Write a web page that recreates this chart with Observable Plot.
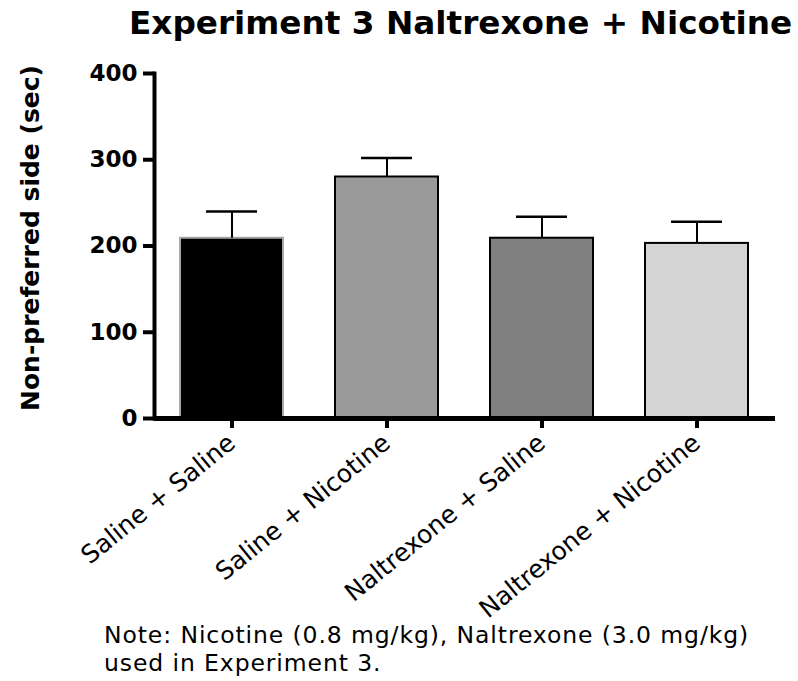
<!DOCTYPE html>
<html><head><meta charset="utf-8">
<script src="https://cdn.jsdelivr.net/npm/d3@7"></script>
<script src="https://cdn.jsdelivr.net/npm/@observablehq/plot@0.6"></script>
<style>
body{margin:0;background:#fff;width:798px;height:681px;overflow:hidden;font-family:"DejaVu Sans",sans-serif;color:#000}
#title{height:50px;box-sizing:border-box;padding:3px 0 0 129px;font-weight:bold;font-size:32.7px;font-family:"DejaVu Sans";line-height:40px;white-space:nowrap}
#note{position:relative;margin-top:-13px;padding-left:104px;font-size:23.5px;letter-spacing:0.9px;font-family:"DejaVu Sans";line-height:27.5px;white-space:nowrap}
svg{display:block}
</style></head><body>
<div id="title">Experiment 3 Naltrexone + Nicotine</div>
<div id="chart"></div>
<div id="note">Note: Nicotine (0.8 mg/kg), Naltrexone (3.0 mg/kg)<br>used in Experiment 3.</div>
<script>
const categories = ["Saline + Saline", "Saline + Nicotine", "Naltrexone + Saline", "Naltrexone + Nicotine"];
const means = [209, 280, 209, 203];
const sems = [31, 22, 25, 25];
const yTicks = [0, 100, 200, 300, 400];
const yLabel = "Non-preferred side (sec)";

const data = categories.map((c, i) => ({group: c, mean: means[i], upper: means[i] + sems[i]}));

const plot = Plot.plot({
  width: 798, height: 585,
  marginLeft: 154, marginRight: 23, marginTop: 23, marginBottom: 217,
  style: {fontFamily: "DejaVu Sans", fontSize: "21px", color: "#000", background: "transparent"},
  x: {domain: categories, paddingInner: 0.334, paddingOuter: 0.17, label: null},
  y: {domain: [0, 400], label: null},
  color: {domain: categories, range: ["#000000", "#9a9a9a", "#808080", "#d4d4d4"]},
  marks: [
    Plot.barY(data, {x: "group", y: "mean", fill: "group", stroke: d => d.group === categories[0] ? "#a8a8a8" : "#000", strokeWidth: 2}),
    Plot.ruleX(data, {x: "group", y1: "mean", y2: "upper", stroke: "#000", strokeWidth: 2}),
    Plot.tickY(data, {x: "group", y: "upper", stroke: "#000", strokeWidth: 2.5, insetLeft: 26, insetRight: 26}),
    Plot.ruleY([0], {stroke: "#000", strokeWidth: 5}),
    Plot.frame({anchor: "left", stroke: "#000", strokeWidth: 4}),
    Plot.axisY({ticks: yTicks, tickSize: 11, tickPadding: 6, strokeWidth: 4, fontWeight: "bold", fontSize: 23, label: null, tickFormat: d => String(d)}),
    Plot.axisX({tickSize: 10, strokeWidth: 4, tickRotate: -39, fontSize: 25, tickPadding: 11, label: null}),
    Plot.text([yLabel], {frameAnchor: "left", textAnchor: "middle", rotate: -90, dx: -124, dy: -8, fontWeight: "bold", fontSize: 25})
  ]
});
document.getElementById("chart").appendChild(plot);
</script>
</body></html>
